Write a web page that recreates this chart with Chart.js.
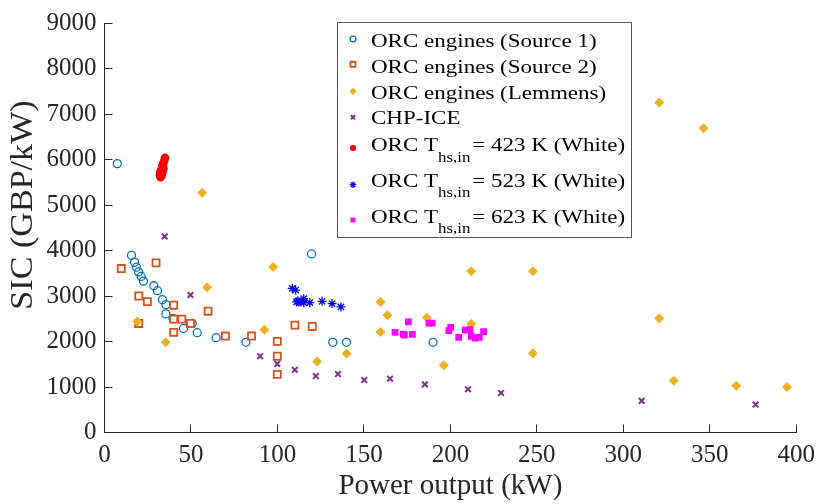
<!DOCTYPE html>
<html>
<head>
<meta charset="utf-8">
<script src="https://cdn.jsdelivr.net/npm/chart.js@4.4.1/dist/chart.umd.min.js"></script>
<style>
  html, body { margin: 0; padding: 0; background: #fff; }
  #wrap { position: relative; width: 823px; height: 504px; }
</style>
</head>
<body>
<div id="wrap"><canvas id="sicChart"></canvas></div>
<script>
// axis ticks
const xTickValues = [0, 50, 100, 150, 200, 250, 300, 350, 400];
const yTickValues = [0, 1000, 2000, 3000, 4000, 5000, 6000, 7000, 8000, 9000];
const xTitle = "Power output (kW)";
const yTitle = "SIC (GBP/kW)";

// series names (T_{..} marks a subscript)
const seriesLabels = [
  "ORC engines (Source 1)",
  "ORC engines (Source 2)",
  "ORC engines (Lemmens)",
  "CHP-ICE",
  "ORC T_{hs,in} = 423 K (White)",
  "ORC T_{hs,in} = 523 K (White)",
  "ORC T_{hs,in} = 623 K (White)"
];

// power output (kW) / SIC (GBP/kW)
const src1X = [7.4, 15.6, 17.4, 18.5, 19.7, 21.2, 22.5, 28.5, 30.6, 33.5, 35.5, 35.5, 39.6, 45.7, 50.7, 53.6, 64.5, 81.8, 119.7, 132, 139.9, 190];
const src1Y = [5910, 3895, 3742, 3633, 3531, 3430, 3327, 3225, 3116, 2920, 2810, 2607, 2505, 2287, 2396, 2193, 2084, 1982, 3924, 1982, 1982, 1982];

const src2X = [9.7, 19.8, 19.8, 24.8, 29.8, 40, 40, 40, 44.7, 49.7, 59.9, 69.9, 85, 99.9, 99.9, 99.9, 110.1, 120.1];
const src2Y = [3604, 3000, 2396, 2876, 3727, 2797, 2491, 2200, 2491, 2396, 2666, 2120, 2120, 2003, 1676, 1277, 2361, 2331];

const lemX = [18.9, 35.4, 56.5, 59.3, 92.5, 97.5, 123, 140, 159.6, 159.6, 163.6, 186.4, 196.2, 212.1, 212.1, 247.7, 247.7, 320.8, 320.8, 329.2, 346.4, 365.3, 394.6];
const lemY = [2440, 1982, 5270, 3190, 2258, 3640, 1560, 1735, 2869, 2208, 2578, 2520, 1480, 3546, 2389, 3546, 1741, 7255, 2513, 1139, 6688, 1030, 1000];

const chpX = [34.8, 49.7, 90, 99.9, 110.1, 122.2, 135, 150.2, 165.1, 185.3, 210.2, 229.3, 310.6, 376.5];
const chpY = [4309, 3022, 1676, 1509, 1379, 1240, 1284, 1153, 1182, 1058, 949, 869, 695, 615];

const w423X = [35.0, 34.6, 34.0, 33.4, 34.1, 32.8, 33.6, 32.2, 33.3, 32.0, 32.9, 32.4];
const w423Y = [6040, 5980, 5920, 5860, 5800, 5780, 5740, 5720, 5690, 5660, 5640, 5610];

const w523X = [108.6, 110.5, 111.1, 111.8, 112.4, 113.7, 115.2, 115.2, 118.7, 125.8, 131.6, 136.7];
const w523Y = [3168, 3131, 2869, 2891, 2869, 2869, 2941, 2854, 2854, 2884, 2833, 2760];

const w623X = [168, 172.8, 173.4, 175.7, 178, 187.6, 189.5, 199.1, 200.2, 204.8, 208.6, 211.3, 212.1, 214.4, 216.7, 219.2];
const w623Y = [2200, 2164, 2142, 2433, 2156, 2404, 2404, 2237, 2309, 2091, 2251, 2258, 2113, 2077, 2091, 2215];

const toPts = (xs, ys) => xs.map((x, i) => ({ x, y: ys[i] }));
const SERIF = "'Liberation Serif', 'Times New Roman', serif";
const AXIS = "#262626";

const styles = [
  { pointStyle: "circle",   radius: 4,   borderWidth: 1.3, borderColor: "#0072BD", backgroundColor: "rgba(0,0,0,0)" },
  { pointStyle: "rect",     radius: 5,   borderWidth: 1.8, borderColor: "#D95319", backgroundColor: "rgba(255,255,255,1)" },
  { pointStyle: "rectRot",  radius: 5,   borderWidth: 0,   borderColor: "#EDB120", backgroundColor: "#EDB120" },
  { pointStyle: "crossRot", radius: 4,   borderWidth: 2,   borderColor: "#7E2F8E", backgroundColor: "#7E2F8E" },
  { pointStyle: "circle",   radius: 4.3, borderWidth: 0,   borderColor: "#FF0000", backgroundColor: "#FF0000" },
  { pointStyle: "star",     radius: 4.5, borderWidth: 1.3, borderColor: "#0000FF", backgroundColor: "#0000FF" },
  { pointStyle: "rect",     radius: 4.8, borderWidth: 0,   borderColor: "#FF00FF", backgroundColor: "#FF00FF" }
];
const seriesPts = [
  toPts(src1X, src1Y), toPts(src2X, src2Y), toPts(lemX, lemY), toPts(chpX, chpY),
  toPts(w423X, w423Y), toPts(w523X, w523Y), toPts(w623X, w623Y)
];

const datasets = seriesPts.map((pts, i) => ({
  label: seriesLabels[i],
  data: pts,
  order: seriesPts.length - i, // later series on top, like the original
  pointStyle: styles[i].pointStyle,
  pointRadius: styles[i].radius,
  pointBorderWidth: styles[i].borderWidth,
  pointBorderColor: styles[i].borderColor,
  pointBackgroundColor: styles[i].backgroundColor,
  showLine: false
}));

// ticks pointing into the plot, matlab style
const innerTicks = {
  id: "innerTicks",
  afterDraw(chart) {
    const { ctx, chartArea: a, scales: { x, y } } = chart;
    ctx.save();
    ctx.strokeStyle = AXIS;
    ctx.lineWidth = 1;
    ctx.beginPath();
    x.ticks.forEach(t => {
      const px = Math.floor(x.getPixelForValue(t.value)) + 0.5;
      ctx.moveTo(px, a.bottom); ctx.lineTo(px, a.bottom - 8);
    });
    y.ticks.forEach(t => {
      const py = Math.floor(y.getPixelForValue(t.value)) + 0.5;
      ctx.moveTo(a.left, py); ctx.lineTo(a.left + 8, py);
    });
    ctx.stroke();

    // y title sits a bit above the middle in the original
    ctx.fillStyle = AXIS;
    ctx.font = "31px " + SERIF;
    ctx.textAlign = "center";
    ctx.textBaseline = "middle";
    ctx.translate(24, 205);
    ctx.rotate(-Math.PI / 2);
    ctx.scale(1.1, 1);
    ctx.fillText(yTitle, 0, 0);
    ctx.restore();
  }
};

function scaledText(ctx, text, x, y, sx) {
  ctx.save();
  ctx.translate(x, y);
  ctx.scale(sx, 1);
  ctx.fillText(text, 0, 0);
  ctx.restore();
  return ctx.measureText(text).width * sx;
}

// boxed legend with subscripts
const boxLegend = {
  id: "boxLegend",
  afterDraw(chart) {
    const ctx = chart.ctx;
    const box = { l: 337.5, t: 22.5, r: 631.5, b: 237.5 };
    const baselines = [46.7, 72.7, 98.7, 124, 151, 186.7, 222.7];
    const markY = [39, 64.3, 91.3, 117.3, 148, 184.7, 220];
    const sx = 1.18;
    ctx.save();
    ctx.fillStyle = "#fff";
    ctx.fillRect(box.l, box.t, box.r - box.l, box.b - box.t);
    ctx.strokeStyle = "#555";
    ctx.lineWidth = 1;
    ctx.strokeRect(box.l, box.t, box.r - box.l, box.b - box.t);

    chart.data.datasets.forEach((ds, i) => {
      const st = styles[i];
      ctx.fillStyle = st.backgroundColor;
      ctx.strokeStyle = st.borderColor;
      ctx.lineWidth = st.borderWidth;
      Chart.helpers.drawPoint(ctx, {
        pointStyle: st.pointStyle,
        radius: st.radius * 0.72,
        rotation: 0,
        borderWidth: st.borderWidth
      }, 353, markY[i]);

      ctx.fillStyle = "#000";
      ctx.textBaseline = "alphabetic";
      ctx.textAlign = "left";
      const m = ds.label.match(/^(.*?)_\{([^}]*)\}\s*(.*)$/);
      let x = 371;
      const y = baselines[i];
      ctx.font = "19.5px " + SERIF;
      if (!m) {
        scaledText(ctx, ds.label, x, y, sx);
      } else {
        x += scaledText(ctx, m[1], x, y, sx);
        ctx.font = "14px " + SERIF;
        x += scaledText(ctx, m[2], x, y + 10.7, 1.2);
        ctx.font = "19.5px " + SERIF;
        scaledText(ctx, m[3], x + 2, y, sx);
      }
    });
    ctx.restore();
  }
};

new Chart(document.getElementById("sicChart"), {
  type: "scatter",
  data: { datasets },
  options: {
    responsive: true,
    maintainAspectRatio: false,
    animation: false,
    events: [],
    layout: { padding: { top: 20, right: 23, left: 0, bottom: 0 } },
    plugins: { legend: { display: false }, tooltip: { enabled: false } },
    scales: {
      x: {
        type: "linear", min: 0, max: 400,
        afterBuildTicks: s => { s.ticks = xTickValues.map(v => ({ value: v })); },
        afterFit: s => { s.height = 71.5; },
        grid: { display: false, drawTicks: false },
        border: { display: true, color: AXIS, width: 1 },
        ticks: { color: AXIS, font: { family: SERIF, size: 25 }, padding: 8, maxRotation: 0, autoSkip: false, callback: v => String(v) },
        title: { display: true, text: xTitle, color: AXIS, font: { family: SERIF, size: 29 }, padding: 0 }
      },
      y: {
        type: "linear", min: 0, max: 9000,
        afterBuildTicks: s => { s.ticks = yTickValues.map(v => ({ value: v })); },
        afterFit: s => { s.width = 104.5; },
        grid: { display: false, drawTicks: false },
        border: { display: true, color: AXIS, width: 1 },
        ticks: { color: AXIS, font: { family: SERIF, size: 25 }, padding: 8, autoSkip: false, callback: v => String(v) },
        title: { display: false, text: yTitle }
      }
    }
  },
  plugins: [innerTicks, boxLegend]
});
</script>
</body>
</html>
